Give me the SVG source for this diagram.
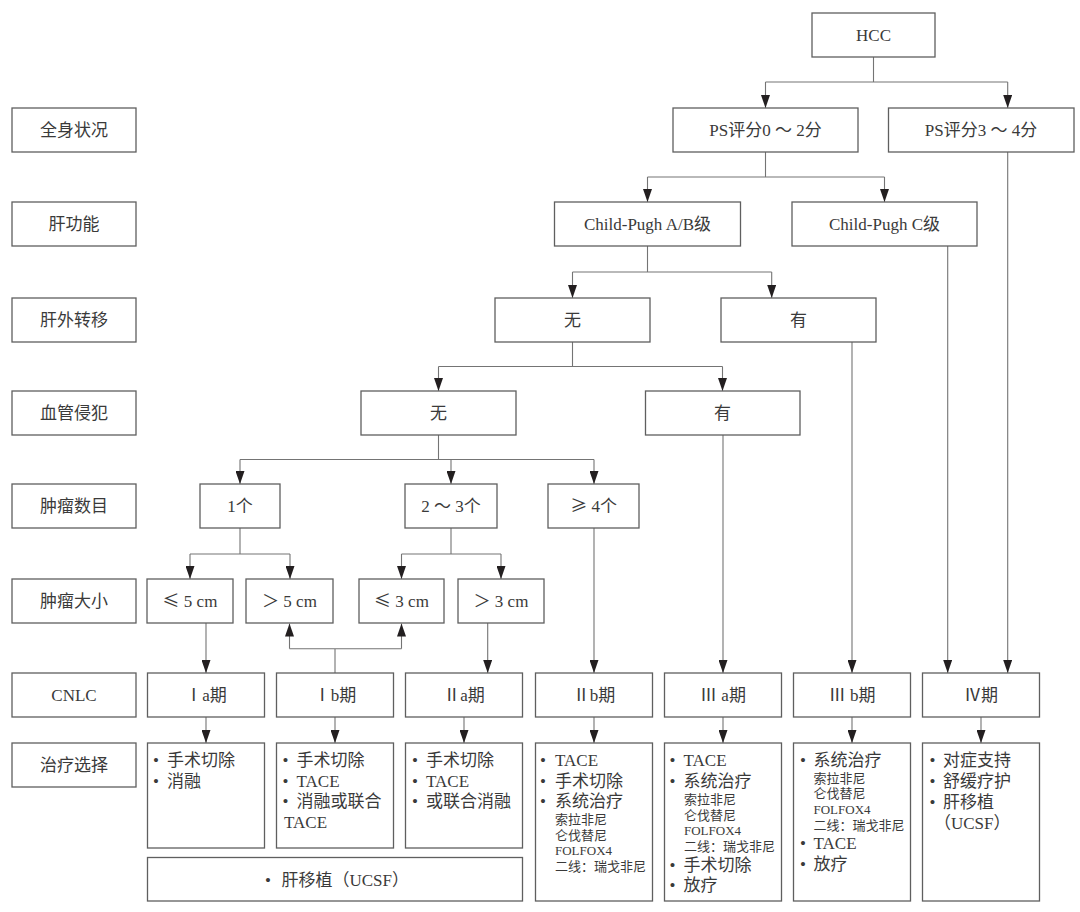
<svg xmlns="http://www.w3.org/2000/svg" width="1080" height="912" viewBox="0 0 1080 912">
<defs>
<marker id="ah" viewBox="0 0 13 9" markerWidth="13" markerHeight="9" refX="13" refY="4.5" orient="auto" markerUnits="userSpaceOnUse">
<path d="M0,0 L13,4.5 L0,9 z" fill="#231f20"/>
</marker>
<style>
.box{fill:#fff;stroke:#5f5f5f;stroke-width:1.3}
.t{font-family:"Liberation Serif","Noto Sans CJK SC",serif;font-size:17px;fill:#3a3a3a;text-anchor:middle}
.tl{font-family:"Liberation Serif","Noto Sans CJK SC",serif;font-size:17px;fill:#3a3a3a}
.s{font-size:13px}
.rn{font-family:"Noto Sans CJK SC",sans-serif}
.c{stroke:#747474;stroke-width:1.1;fill:none}
.a{stroke:#747474;stroke-width:1.1;fill:none;marker-end:url(#ah)}
</style>
</defs>
<rect width="1080" height="912" fill="#fff"/>

<g id="labels">
<g id="lab-qsz"><rect class="box" x="12" y="108" width="124" height="44"/><text class="t" x="74" y="136">全身状况</text></g>
<g id="lab-ggn"><rect class="box" x="12" y="202" width="124" height="44"/><text class="t" x="74" y="230">肝功能</text></g>
<g id="lab-gwzy"><rect class="box" x="12" y="298" width="124" height="44"/><text class="t" x="74" y="326">肝外转移</text></g>
<g id="lab-xgqf"><rect class="box" x="12" y="391" width="124" height="44"/><text class="t" x="74" y="419">血管侵犯</text></g>
<g id="lab-zlsm"><rect class="box" x="12" y="484" width="124" height="44"/><text class="t" x="74" y="512">肿瘤数目</text></g>
<g id="lab-zldx"><rect class="box" x="12" y="579" width="124" height="44"/><text class="t" x="74" y="607">肿瘤大小</text></g>
<g id="lab-cnlc"><rect class="box" x="12" y="673" width="124" height="44"/><text class="t" x="74" y="701">CNLC</text></g>
<g id="lab-zlxz"><rect class="box" x="12" y="743" width="124" height="44"/><text class="t" x="74" y="771">治疗选择</text></g>
</g>

<g id="connectors">
<path class="c" d="M873.5,57 V82 M765.5,82 H1007.7"/>
<path class="a" d="M765.5,82 V108"/>
<path class="a" d="M1007.7,82 V108"/>
<path class="a" d="M1007.7,152 V673"/>
<path class="c" d="M765.5,152 V177 M647.5,177 H884.5"/>
<path class="a" d="M647.5,177 V202"/>
<path class="a" d="M884.5,177 V202"/>
<path class="a" d="M947.7,246 V673"/>
<path class="c" d="M647.5,246 V272 M572.5,272 H771.7"/>
<path class="a" d="M572.5,272 V298"/>
<path class="a" d="M771.7,272 V298"/>
<path class="a" d="M852,342 V673"/>
<path class="c" d="M572.5,342 V366.5 M438.5,366.5 H722.5"/>
<path class="a" d="M438.5,366.5 V391"/>
<path class="a" d="M722.5,366.5 V391"/>
<path class="a" d="M723,435 V673"/>
<path class="c" d="M438.5,435 V459.5 M240,459.5 H594"/>
<path class="a" d="M240,459.5 V484"/>
<path class="a" d="M451,459.5 V484"/>
<path class="a" d="M594,459.5 V484"/>
<path class="a" d="M594,528 V673"/>
<path class="c" d="M240,528 V554 M190,554 H290"/>
<path class="a" d="M190,554 V579"/>
<path class="a" d="M290,554 V579"/>
<path class="c" d="M451,528 V554 M401.5,554 H501"/>
<path class="a" d="M401.5,554 V579"/>
<path class="a" d="M501,554 V579"/>
<path class="a" d="M206,623 V673"/>
<path class="a" d="M487.7,623 V673"/>
<path class="c" d="M335,673 V648.7 M289.5,648.7 H401.5"/>
<path class="a" d="M289.5,648.7 V623.5"/>
<path class="a" d="M401.5,648.7 V623.5"/>
<path class="a" d="M206,717 V743"/>
<path class="a" d="M335,717 V743"/>
<path class="a" d="M464,717 V743"/>
<path class="a" d="M594,717 V743"/>
<path class="a" d="M723,717 V743"/>
<path class="a" d="M852,717 V743"/>
<path class="a" d="M981,717 V743"/>
</g>

<g id="n-hcc"><rect class="box" x="812" y="13" width="123" height="44"/><text class="t" x="873.5" y="41">HCC</text></g>
<g id="n-ps02"><rect class="box" x="673" y="108" width="185" height="44"/><text class="t" x="765.5" y="136">PS评分0 ～ 2分</text></g>
<g id="n-ps34"><rect class="box" x="888.5" y="108" width="185.5" height="44"/><text class="t" x="981" y="136">PS评分3 ～ 4分</text></g>
<g id="n-cpab"><rect class="box" x="554.5" y="202" width="186" height="44"/><text class="t" x="647.5" y="230">Child-Pugh A/B级</text></g>
<g id="n-cpc"><rect class="box" x="792" y="202" width="185" height="44"/><text class="t" x="884.5" y="230">Child-Pugh C级</text></g>
<g id="n-gw-no"><rect class="box" x="495" y="298" width="155" height="44"/><text class="t" x="572.5" y="326">无</text></g>
<g id="n-gw-yes"><rect class="box" x="721" y="298" width="155" height="44"/><text class="t" x="798.5" y="326">有</text></g>
<g id="n-xg-no"><rect class="box" x="361" y="391" width="155" height="44"/><text class="t" x="438.5" y="419">无</text></g>
<g id="n-xg-yes"><rect class="box" x="645.5" y="391" width="154.5" height="44"/><text class="t" x="722.5" y="419">有</text></g>
<g id="n-n1"><rect class="box" x="200" y="484" width="80" height="44"/><text class="t" x="240" y="512">1个</text></g>
<g id="n-n23"><rect class="box" x="405" y="484" width="92" height="44"/><text class="t" x="451" y="512">2 ～ 3个</text></g>
<g id="n-n4"><rect class="box" x="548" y="484" width="91" height="44"/><text class="t" x="593.5" y="512"><tspan class="rn">≥</tspan> 4个</text></g>
<g id="n-le5"><rect class="box" x="147" y="579" width="86" height="44"/><text class="t" x="190" y="607"><tspan class="rn">≤</tspan> 5 cm</text></g>
<g id="n-gt5"><rect class="box" x="246" y="579" width="87" height="44"/><text class="t" x="289.5" y="607">＞ 5 cm</text></g>
<g id="n-le3"><rect class="box" x="359" y="579" width="85" height="44"/><text class="t" x="401.5" y="607"><tspan class="rn">≤</tspan> 3 cm</text></g>
<g id="n-gt3"><rect class="box" x="458" y="579" width="86" height="44"/><text class="t" x="501" y="607">＞ 3 cm</text></g>

<g id="n-1a"><rect class="box" x="147.5" y="673" width="117" height="44"/><text class="t" x="206" y="701"><tspan class="rn">Ⅰ</tspan>a期</text></g>
<g id="n-1b"><rect class="box" x="276.5" y="673" width="117" height="44"/><text class="t" x="335" y="701"><tspan class="rn">Ⅰ</tspan>b期</text></g>
<g id="n-2a"><rect class="box" x="405.5" y="673" width="117" height="44"/><text class="t" x="464" y="701"><tspan class="rn">Ⅱ</tspan>a期</text></g>
<g id="n-2b"><rect class="box" x="535.5" y="673" width="117" height="44"/><text class="t" x="594" y="701"><tspan class="rn">Ⅱ</tspan>b期</text></g>
<g id="n-3a"><rect class="box" x="664.5" y="673" width="117" height="44"/><text class="t" x="723" y="701"><tspan class="rn">Ⅲ</tspan> a期</text></g>
<g id="n-3b"><rect class="box" x="793.5" y="673" width="117" height="44"/><text class="t" x="852" y="701"><tspan class="rn">Ⅲ</tspan> b期</text></g>
<g id="n-4"><rect class="box" x="922.5" y="673" width="117" height="44"/><text class="t" x="981" y="701"><tspan class="rn">Ⅳ</tspan>期</text></g>

<g id="t-1a"><rect class="box" x="147.5" y="743" width="117" height="105"/>
<text class="tl"><tspan x="153" y="766">•</tspan><tspan x="167" y="766">手术切除</tspan><tspan x="153" y="786.5">•</tspan><tspan x="167" y="786.5">消融</tspan></text></g>
<g id="t-1b"><rect class="box" x="276.5" y="743" width="117" height="105"/>
<text class="tl"><tspan x="282.5" y="766">•</tspan><tspan x="296.5" y="766">手术切除</tspan><tspan x="282.5" y="786.5">•</tspan><tspan x="296.5" y="786.5">TACE</tspan><tspan x="282.5" y="807">•</tspan><tspan x="296.5" y="807">消融或联合</tspan><tspan x="284" y="828">TACE</tspan></text></g>
<g id="t-2a"><rect class="box" x="405.5" y="743" width="117" height="105"/>
<text class="tl"><tspan x="412" y="766">•</tspan><tspan x="426" y="766">手术切除</tspan><tspan x="412" y="786.5">•</tspan><tspan x="426" y="786.5">TACE</tspan><tspan x="412" y="807">•</tspan><tspan x="426" y="807">或联合消融</tspan></text></g>
<g id="t-lt"><rect class="box" x="147.5" y="857.5" width="375" height="43.5"/>
<text class="tl"><tspan x="265" y="886">•</tspan><tspan x="281.5" y="886">肝移植（UCSF）</tspan></text></g>
<g id="t-2b"><rect class="box" x="535.5" y="743" width="117" height="158"/>
<text class="tl"><tspan x="540" y="766">•</tspan><tspan x="555" y="766">TACE</tspan><tspan x="540" y="786.5">•</tspan><tspan x="555" y="786.5">手术切除</tspan><tspan x="540" y="807">•</tspan><tspan x="555" y="807">系统治疗</tspan></text>
<text class="tl s"><tspan x="555" y="823.5">索拉非尼</tspan><tspan x="555" y="839.5">仑伐替尼</tspan><tspan x="555" y="854.5">FOLFOX4</tspan><tspan x="555" y="870.5">二线：瑞戈非尼</tspan></text></g>
<g id="t-3a"><rect class="box" x="664.5" y="743" width="117" height="158"/>
<text class="tl"><tspan x="669.5" y="766">•</tspan><tspan x="683.5" y="766">TACE</tspan><tspan x="669.5" y="786.5">•</tspan><tspan x="683.5" y="786.5">系统治疗</tspan><tspan x="669.5" y="871">•</tspan><tspan x="683.5" y="871">手术切除</tspan><tspan x="669.5" y="891">•</tspan><tspan x="683.5" y="891">放疗</tspan></text>
<text class="tl s"><tspan x="684" y="803.5">索拉非尼</tspan><tspan x="684" y="819.5">仑伐替尼</tspan><tspan x="684" y="834.5">FOLFOX4</tspan><tspan x="684" y="851">二线：瑞戈非尼</tspan></text></g>
<g id="t-3b"><rect class="box" x="793.5" y="743" width="117" height="158"/>
<text class="tl"><tspan x="800" y="766">•</tspan><tspan x="813.5" y="766">系统治疗</tspan><tspan x="800" y="849">•</tspan><tspan x="813.5" y="849">TACE</tspan><tspan x="800" y="869.5">•</tspan><tspan x="813.5" y="869.5">放疗</tspan></text>
<text class="tl s"><tspan x="813.5" y="783">索拉非尼</tspan><tspan x="813.5" y="798">仑伐替尼</tspan><tspan x="813.5" y="814">FOLFOX4</tspan><tspan x="813.5" y="829.5">二线：瑞戈非尼</tspan></text></g>
<g id="t-4"><rect class="box" x="922.5" y="743" width="117" height="158"/>
<text class="tl"><tspan x="929.5" y="766">•</tspan><tspan x="943" y="766">对症支持</tspan><tspan x="929.5" y="786.5">•</tspan><tspan x="943" y="786.5">舒缓疗护</tspan><tspan x="929.5" y="807.5">•</tspan><tspan x="943" y="807.5">肝移植</tspan><tspan x="934" y="828.5">（UCSF）</tspan></text></g>
</svg>
